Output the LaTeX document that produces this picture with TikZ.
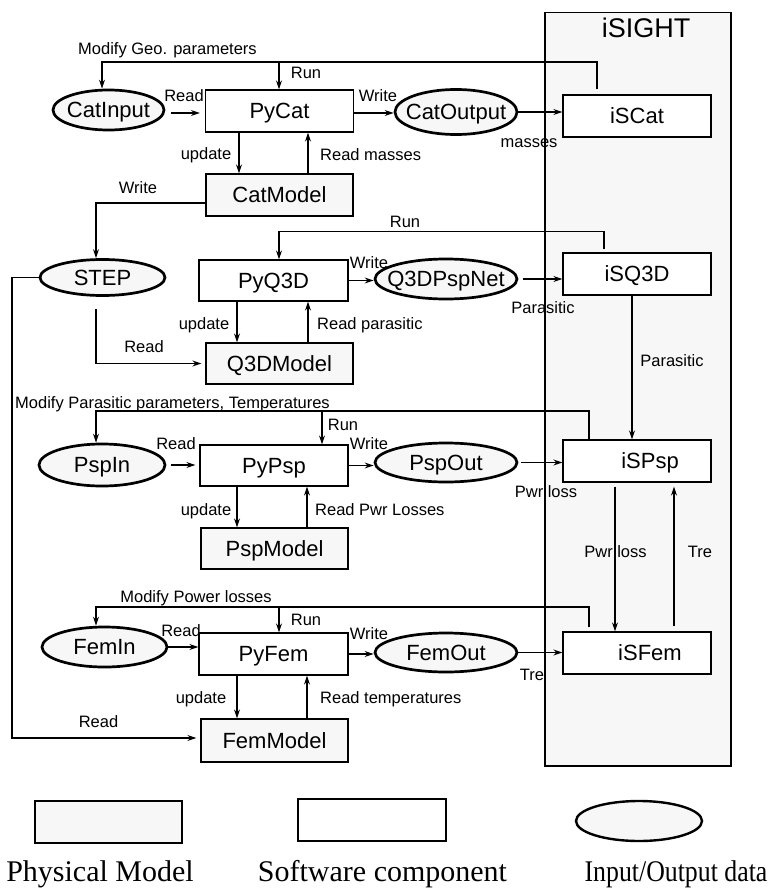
\documentclass[tikz,border=0pt]{standalone}
\usepackage{fontspec}
\setmainfont{Liberation Sans}
\newfontfamily\legendfont{Liberation Serif}
\usetikzlibrary{shapes.geometric,arrows.meta,calc}
\definecolor{lightfill}{gray}{0.97}
\tikzset{
  sw/.style={draw, line width=1.3pt, minimum width=148pt, minimum height=42pt, inner sep=0pt, fill=white, font=\fontsize{22}{26}\selectfont, text height=15.75pt, text depth=0pt},
  phys/.style={sw, fill=lightfill},
  io/.style={ellipse, draw, line width=2.7pt, fill=lightfill, inner xsep=-30pt, inner ysep=0pt, font=\fontsize{22}{26}\selectfont, text height=15.75pt, text depth=0pt},
  arr/.style={draw, line width=1.2pt, -{Stealth[length=9pt,width=6pt]}},
  lbl/.style={font=\fontsize{16.5}{19}\selectfont, inner sep=0pt, anchor=base},
  lbll/.style={lbl, anchor=base west},
  leg/.style={font=\legendfont\fontsize{30}{34}\selectfont, inner sep=0pt, anchor=base},
}
\begin{document}
\begin{tikzpicture}[x=1pt,y=-1pt]
\useasboundingbox (0,0) rectangle (770,888);
% iSIGHT container
\node[draw, line width=1.5pt, fill=lightfill, minimum width=186pt, minimum height=753pt, inner sep=0pt, anchor=north west] (isight) at (544,12) {};
\node[font=\fontsize{27}{30}\selectfont, inner sep=0pt, anchor=base] (isightT) at (646,38) {iSIGHT};

% ---- Cat row
\node[sw] (PyCat) at (279.5,111) {PyCat};
\node[phys, minimum width=147pt] (CatModel) at (279.5,195) {CatModel};
\node[io, minimum width=111pt, minimum height=40pt] (CatInput) at (108.5,110) {CatInput};
\node[io, minimum width=122pt, minimum height=45pt] (CatOutput) at (456,112) {CatOutput};
\node[sw] (iSCat) at (637,116) {iSCat};

% ---- Q3D row
\node[sw, minimum width=149pt, minimum height=41pt] (PyQ3D) at (273.5,280.5) {PyQ3D};
\node[phys, minimum width=147pt, minimum height=41pt] (Q3DModel) at (279.5,363.5) {Q3DModel};
\node[io, minimum width=125pt, minimum height=36pt] (STEP) at (102.5,277.5) {STEP};
\node[io, minimum width=142pt, minimum height=40pt] (Q3DPspNet) at (446,279) {Q3DPspNet};
\node[sw] (iSQ3D) at (637,274) {iSQ3D};

% ---- Psp row
\node[sw, minimum height=41pt] (PyPsp) at (274,465.5) {PyPsp};
\node[phys, minimum width=147pt, minimum height=41pt] (PspModel) at (274.5,548.5) {PspModel};
\node[io, minimum width=126pt, minimum height=42pt] (PspIn) at (102,465) {PspIn};
\node[io, minimum width=142pt, minimum height=39pt] (PspOut) at (446,462.5) {PspOut};
\node[sw] (iSPsp) at (637,461) {\hspace*{26pt}iSPsp};

% ---- Fem row
\node[sw, minimum width=149pt] (PyFem) at (273.5,654) {PyFem};
\node[phys, minimum width=147pt, minimum height=43pt] (FemModel) at (274.5,740.5) {FemModel};
\node[io, minimum width=125pt, minimum height=40pt] (FemIn) at (104.5,647) {FemIn};
\node[io, minimum width=142pt, minimum height=39pt] (FemOut) at (446,652.5) {FemOut};
\node[sw] (iSFem) at (637,653) {\hspace*{26pt}iSFem};

% ---- coordinates
\coordinate (geo) at (0,62);
\coordinate (railp) at (0,411);
\coordinate (railf) at (0,607);
\coordinate (rail) at (12,0);
\coordinate (catrun) at ([xshift=-0.5pt]PyCat.north);
\coordinate (psprun) at ([xshift=48pt]PyPsp.north);
\coordinate (femrun) at ([xshift=5.5pt]PyFem.north);
\coordinate (catin) at ([xshift=-6.5pt]CatInput.north);
\coordinate (pspin) at ([xshift=-6pt]PspIn.north);
\coordinate (femin) at ([xshift=-8.5pt]FemIn.north);

% ---- Cat connectors
\draw[arr, shorten <=5pt] ([xshift=-40pt]iSCat.north) |- (geo -| catin) -- (catin);
\draw[arr] (catrun |- geo) -- (catrun);
\draw[arr, shorten <=6pt, shorten >=5pt] ([yshift=-3pt]CatInput.east) -- ([yshift=-3pt]CatInput.east -| PyCat.west);
\draw[arr] ([yshift=-2pt]PyCat.east) -- ([yshift=-2pt]PyCat.east -| CatOutput.west);
\draw[arr] (CatOutput.east) -- (CatOutput.east -| iSCat.west);
\draw[arr] ([xshift=-40.5pt]PyCat.south) -- ([xshift=-40.5pt]CatModel.north);
\draw[arr] ([xshift=28.5pt]CatModel.north) -- ([xshift=28.5pt]PyCat.south);
\draw[arr] ([yshift=-8pt]CatModel.west) -| ([xshift=-6.5pt]STEP.north);
\draw[arr, shorten >=4pt] (STEP.west) -- (STEP.west -| rail) |- ([yshift=2.5pt]FemModel.west);
\draw[arr, shorten <=12pt, shorten >=4pt] ([xshift=-6.5pt]STEP.south) |- (Q3DModel.west);

% ---- Q3D connectors
\draw[arr, shorten <=3pt] ([xshift=-33pt]iSQ3D.north) -- ++(0,-21) -| ([xshift=5.5pt]PyQ3D.north);
\draw[arr] (PyQ3D.east) -- (PyQ3D.east -| Q3DPspNet.west);
\draw[arr, shorten <=5pt] (Q3DPspNet.east) -- (Q3DPspNet.east -| iSQ3D.west);
\draw[arr] ([xshift=-36.5pt]PyQ3D.south) -- ([xshift=-36.5pt]PyQ3D.south |- Q3DModel.north);
\draw[arr] ([xshift=28.5pt]Q3DModel.north) -- ([xshift=28.5pt]Q3DModel.north |- PyQ3D.south);
\draw[arr] ([xshift=-5pt]iSQ3D.south) -- ([xshift=-5pt]iSQ3D.south |- iSPsp.north);

% ---- Psp connectors
\draw[arr] ([xshift=-48pt]iSPsp.north) |- (railp -| pspin) -- (pspin);
\draw[arr] (psprun |- railp) -- (psprun);
\draw[arr, shorten <=5pt, shorten >=4pt] (PspIn.east) -- (PspIn.east -| PyPsp.west);
\draw[arr] (PyPsp.east) -- (PyPsp.east -| PspOut.west);
\draw[arr, shorten <=3pt] (PspOut.east) -- (PspOut.east -| iSPsp.west);
\draw[arr] ([xshift=-37pt]PyPsp.south) -- ([xshift=-37pt]PyPsp.south |- PspModel.north);
\draw[arr] ([xshift=33pt]PyPsp.south |- PspModel.north) -- ([xshift=33pt]PyPsp.south);
\draw[arr, shorten <=4pt] ([xshift=-22pt]iSPsp.south) -- ([xshift=-22pt]iSPsp.south |- iSFem.north);
\draw[arr, shorten <=5pt, shorten >=4pt] ([xshift=37pt]iSFem.north) -- ([xshift=37pt]iSFem.north |- iSPsp.south);

% ---- Fem connectors
\draw[arr, shorten <=4pt] ([xshift=-48pt]iSFem.north) |- (railf -| femin) -- (femin);
\draw[arr] (femrun |- railf) -- (femrun);
\draw[arr] (FemIn.east) -- (FemIn.east -| PyFem.west);
\draw[arr] (PyFem.east) -- (PyFem.east -| FemOut.west);
\draw[arr] (FemOut.east) -- (FemOut.east -| iSFem.west);
\draw[arr] ([xshift=-36.5pt]PyFem.south) -- ([xshift=-36.5pt]PyFem.south |- FemModel.north);
\draw[arr] ([xshift=33.5pt]PyFem.south |- FemModel.north) -- ([xshift=33.5pt]PyFem.south);

% ---- labels
\node[lbl] (l1) at (167.5,55) {Modify Geo. parameters};
\node[lbl] (l2) at (306,79) {Run};
\node[lbl] (l3) at (184,102) {Read};
\node[lbl] (l4) at (378,102) {Write};
\node[lbl] (l5) at (206,159) {update};
\node[lbll] (l6) at (320,160) {Read masses};
\node[lbl] (l7) at (529,147) {masses};
\node[lbl] (l8) at (138,193) {Write};
\node[lbl] (l9) at (405,227) {Run};
\node[lbl] (l10) at (369,268) {Write};
\node[lbl] (l11) at (543,313) {Parasitic};
\node[lbl] (l12) at (204,329) {update};
\node[lbll] (l13) at (317,329) {Read parasitic};
\node[lbl] (l14) at (144,352) {Read};
\node[lbl] (l15) at (672,366) {Parasitic};
\node[lbll] (l16) at (15,408) {Modify Parasitic parameters, Temperatures};
\node[lbl] (l17) at (343,430) {Run};
\node[lbl] (l18) at (176,449) {Read};
\node[lbl] (l19) at (369,449) {Write};
\node[lbl] (l20) at (206,515) {update};
\node[lbll] (l21) at (315,515) {Read Pwr Losses};
\node[lbl] (l22) at (546,497) {Pwr loss};
\node[lbl] (l23) at (615.5,557) {Pwr loss};
\node[lbl] (l24) at (700,557) {Tre};
\node[lbl] (l25) at (196,602) {Modify Power losses};
\node[lbl] (l26) at (306,625) {Run};
\node[lbl] (l27) at (181,636) {Read};
\node[lbl] (l28) at (369,639) {Write};
\node[lbl] (l29) at (201,703) {update};
\node[lbll] (l30) at (320,703) {Read temperatures};
\node[lbl] (l31) at (98.5,727) {Read};
\node[lbl] (l32) at (532,680) {Tre};

% ---- legend
\node[phys, minimum width=147pt] (LPhys) at (108.5,822) {};
\node[sw] (LSoft) at (372,820) {};
\node[io, line width=2.4pt, minimum width=126pt, minimum height=40pt] (LIO) at (639,821) {};
\node[leg] (LPhysT) at (100,881) {Physical Model};
\node[leg] (LSoftT) at (382.5,881) {Software component};
\node[leg] (LIOT) at (676,881) {\scalebox{0.86}[1]{Input/Output data}};
\end{tikzpicture}
\end{document}
